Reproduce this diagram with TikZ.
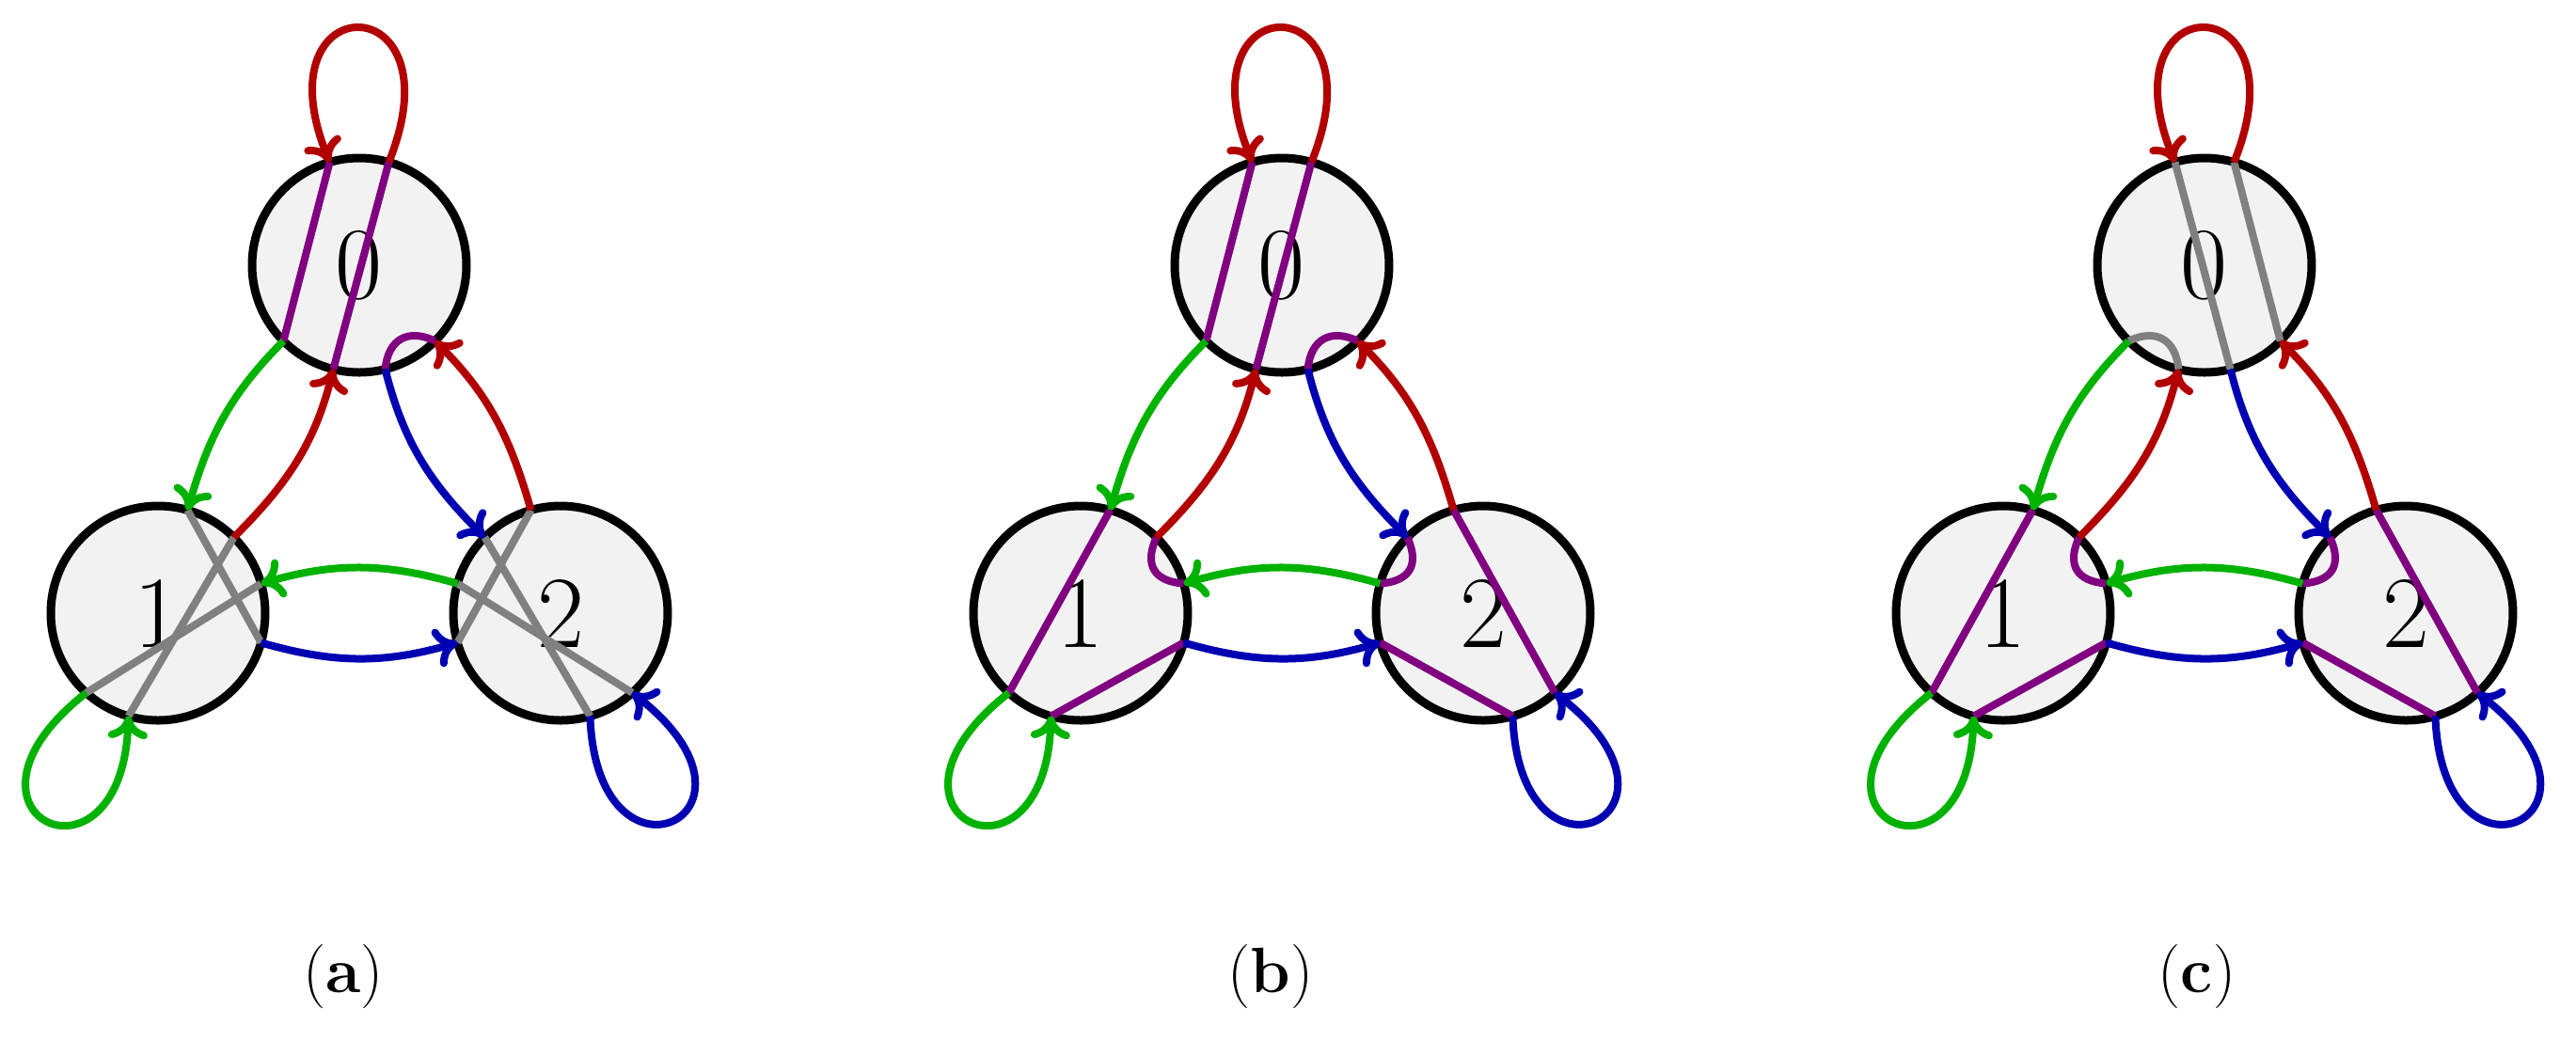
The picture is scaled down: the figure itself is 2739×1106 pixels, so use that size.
\documentclass[tikz,border=0pt]{standalone}
\usepackage{fontspec}
\usetikzlibrary{arrows.meta}
\definecolor{cred}{rgb}{0.7,0,0}
\definecolor{cgreen}{rgb}{0,0.7,0}
\definecolor{cblue}{rgb}{0,0,0.7}
\definecolor{cpurple}{rgb}{0.5,0,0.5}
\definecolor{cgray}{rgb}{0.5,0.5,0.5}
\definecolor{cfill}{rgb}{0.95,0.95,0.95}
\tikzset{
  state/.style={circle, draw=black, fill=cfill, line width=0.9mm,
    minimum size=22.8mm, inner sep=0pt, outer sep=0pt,
    font=\fontsize{31}{36}\selectfont},
  edgeline/.style={line width=0.8mm,
    -{Computer Modern Rightarrow[length=2.4mm,width=4.2mm]}},
  innerline/.style={line width=0.8mm},
  captext/.style={font=\fontsize{19.4}{23}\selectfont, anchor=base},
}
\newcommand{\mknodes}[1]{%
  \node[state] (#10) at (382,-282) {0};
  \node[state] (#11) at (168,-652) {1};
  \node[state] (#12) at (596,-652) {2};
}
\newcommand{\innerarc}[4]{%
  \draw[innerline,#1] (#2.#3) .. controls +({(#3+#4)/2+145}:3.2mm)
    and +({(#3+#4)/2+215}:3.2mm) .. (#2.#4);
}
\newcommand{\mkedges}[1]{%
  \draw[edgeline,cred] (#10.74) .. controls +(68:20.5mm) and +(112:20.5mm) .. (#10.106);
  \draw[edgeline,cgreen] (#10.225) to[out=225,in=74] (#11.74);
  \draw[edgeline,cred] (#11.45) to[out=45,in=256] (#10.256);
  \draw[edgeline,cblue] (#10.284) to[out=284,in=135] (#12.135);
  \draw[edgeline,cred] (#12.106) to[out=106,in=315] (#10.315);
  \draw[edgeline,cgreen] (#12.164) to[out=164,in=16] (#11.16);
  \draw[edgeline,cblue] (#11.344) to[out=344,in=196] (#12.196);
  \draw[edgeline,cgreen] (#11.228) .. controls +(218:21mm) and +(268:20mm) .. (#11.254);
  \draw[edgeline,cblue] (#12.286) .. controls +(272:20mm) and +(322:21mm) .. (#12.312);
}
\begin{document}
\begin{tikzpicture}[x=0.1mm,y=0.1mm]
\useasboundingbox (0,0) rectangle (2739,-1106);
% panel (a)
\begin{scope}
  \mknodes{a}
  \draw[innerline,cpurple] (a0.106) -- (a0.225) (a0.74) -- (a0.256);
  \innerarc{cpurple}{a0}{284}{315}
  \draw[innerline,cgray] (a1.74) -- (a1.344) (a1.45) -- (a1.254) (a1.16) -- (a1.228);
  \draw[innerline,cgray] (a2.106) -- (a2.196) (a2.135) -- (a2.286) (a2.164) -- (a2.312);
  \mkedges{a}
  \node[captext] (capa) at (365,-1055) {(\textbf{a})};
\end{scope}
% panel (b)
\begin{scope}[xshift=98.1mm]
  \mknodes{b}
  \draw[innerline,cpurple] (b0.106) -- (b0.225) (b0.74) -- (b0.256);
  \innerarc{cpurple}{b0}{284}{315}
  \draw[innerline,cpurple] (b1.74) -- (b1.228) (b1.344) -- (b1.254);
  \innerarc{cpurple}{b1}{16}{45}
  \draw[innerline,cpurple] (b2.106) -- (b2.312) (b2.196) -- (b2.286);
  \innerarc{cpurple}{b2}{135}{164}
  \mkedges{b}
  \node[captext] (capb) at (370,-1055) {(\textbf{b})};
\end{scope}
% panel (c)
\begin{scope}[xshift=196.2mm]
  \mknodes{c}
  \draw[innerline,cgray] (c0.106) -- (c0.284) (c0.74) -- (c0.315);
  \innerarc{cgray}{c0}{225}{256}
  \draw[innerline,cpurple] (c1.74) -- (c1.228) (c1.344) -- (c1.254);
  \innerarc{cpurple}{c1}{16}{45}
  \draw[innerline,cpurple] (c2.106) -- (c2.312) (c2.196) -- (c2.286);
  \innerarc{cpurple}{c2}{135}{164}
  \mkedges{c}
  \node[captext] (capc) at (374,-1055) {(\textbf{c})};
\end{scope}
\end{tikzpicture}
\end{document}
